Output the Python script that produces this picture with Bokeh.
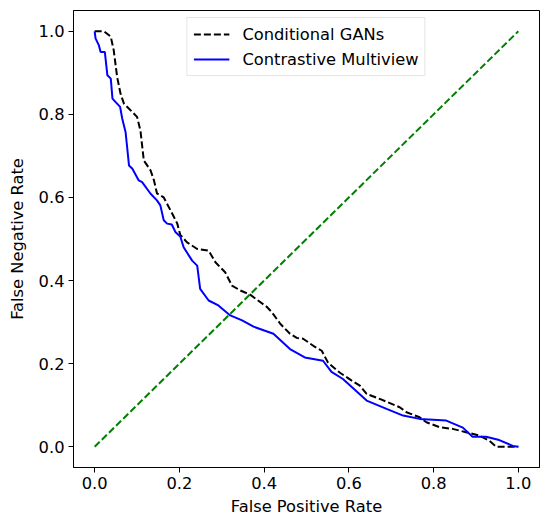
from bokeh.plotting import figure
from bokeh.models import Range1d, FixedTicker, PrintfTickFormatter, Legend, LegendItem
from bokeh.embed import file_html
from bokeh.resources import INLINE

# Conditional GANs (FPR, FNR)
cgan_fpr = [0.0, 0.022, 0.038, 0.045, 0.053, 0.061, 0.069, 0.100, 0.108, 0.116, 0.132, 0.140,
            0.147, 0.163, 0.179, 0.195, 0.202, 0.218, 0.242, 0.269, 0.285, 0.308, 0.324, 0.344,
            0.367, 0.383, 0.406, 0.418, 0.438, 0.461, 0.477, 0.492, 0.516, 0.536, 0.551, 0.579,
            0.610, 0.626, 0.642, 0.673, 0.720, 0.736, 0.767, 0.783, 0.814, 0.845, 0.876, 0.908,
            0.932, 0.948, 1.0]
cgan_fnr = [1.0, 1.0, 0.987, 0.954, 0.890, 0.850, 0.826, 0.794, 0.761, 0.689, 0.665, 0.641,
            0.610, 0.600, 0.569, 0.537, 0.510, 0.492, 0.476, 0.472, 0.444, 0.420, 0.388, 0.376,
            0.366, 0.354, 0.337, 0.324, 0.296, 0.272, 0.262, 0.260, 0.243, 0.231, 0.202, 0.178,
            0.157, 0.147, 0.127, 0.115, 0.095, 0.083, 0.071, 0.059, 0.047, 0.043, 0.035, 0.027,
            0.014, 0.0, 0.0]

# Contrastive Multiview (FPR, FNR)
cmv_fpr = [0.0, 0.002, 0.010, 0.014, 0.024, 0.030, 0.038, 0.042, 0.049, 0.060, 0.065, 0.073,
           0.081, 0.089, 0.104, 0.112, 0.132, 0.147, 0.155, 0.163, 0.171, 0.182, 0.191, 0.202,
           0.210, 0.230, 0.242, 0.249, 0.269, 0.292, 0.320, 0.348, 0.375, 0.422, 0.461, 0.496,
           0.539, 0.559, 0.586, 0.642, 0.689, 0.728, 0.767, 0.830, 0.869, 0.892, 0.924, 0.955,
           0.987, 1.0]
cmv_fnr = [1.0, 0.983, 0.966, 0.950, 0.950, 0.894, 0.886, 0.838, 0.830, 0.818, 0.790, 0.757,
           0.677, 0.669, 0.641, 0.637, 0.609, 0.593, 0.581, 0.545, 0.537, 0.535, 0.516, 0.506,
           0.480, 0.448, 0.436, 0.380, 0.352, 0.340, 0.316, 0.304, 0.289, 0.272, 0.235, 0.215,
           0.207, 0.180, 0.163, 0.111, 0.091, 0.075, 0.067, 0.063, 0.046, 0.024, 0.024, 0.016,
           0.002, 0.0]

diag = [0.0, 1.0]
ticks = [0.0, 0.2, 0.4, 0.6, 0.8, 1.0]

FONT = "DejaVu Sans"
FS = "16.3px"

p = figure(width=540, height=519, output_backend="svg", toolbar_location=None,
           x_range=Range1d(-0.05, 1.05), y_range=Range1d(-0.05, 1.05),
           min_border_left=73, min_border_right=1, min_border_top=10, min_border_bottom=52,
           x_axis_label="False Positive Rate", y_axis_label="False Negative Rate")

p.grid.visible = False
p.outline_line_color = "black"
p.outline_line_width = 1
p.outline_line_alpha = 1

for ax in (p.xaxis[0], p.yaxis[0]):
    ax.ticker = FixedTicker(ticks=ticks)
    ax.formatter = PrintfTickFormatter(format="%.1f")
    ax.major_tick_in = 0
    ax.major_tick_out = 5
    ax.minor_tick_out = 0
    ax.minor_tick_in = 0
    ax.axis_line_color = "black"
    ax.major_tick_line_color = "black"
    ax.major_label_text_font = FONT
    ax.major_label_text_font_size = FS
    ax.major_label_text_color = "black"
    ax.axis_label_text_font = FONT
    ax.axis_label_text_font_size = FS
    ax.axis_label_text_font_style = "normal"
    ax.axis_label_text_color = "black"
    ax.major_label_standoff = 4

p.xaxis[0].axis_label_standoff = 5
p.yaxis[0].axis_label_standoff = 9

r1 = p.line(cgan_fpr, cgan_fnr, line_color="black", line_width=2, line_dash="7 3")
r2 = p.line(cmv_fpr, cmv_fnr, line_color="blue", line_width=2)
p.line(diag, diag, line_color="green", line_width=2, line_dash="7 3")

legend = Legend(items=[LegendItem(label="Conditional GANs", renderers=[r1]),
                       LegendItem(label="Contrastive Multiview", renderers=[r2])],
                location="top_center")
legend.label_text_font = FONT
legend.label_text_font_size = FS
legend.label_text_color = "black"
legend.glyph_width = 36
legend.glyph_height = 20
legend.spacing = 5
legend.padding = 6
legend.margin = 7
legend.border_line_color = "#cccccc"
legend.border_line_width = 1
legend.background_fill_alpha = 0.8
legend.label_standoff = 13
legend.label_height = 20
p.add_layout(legend, "center")

open("out.html", "w").write(file_html(p, INLINE))
